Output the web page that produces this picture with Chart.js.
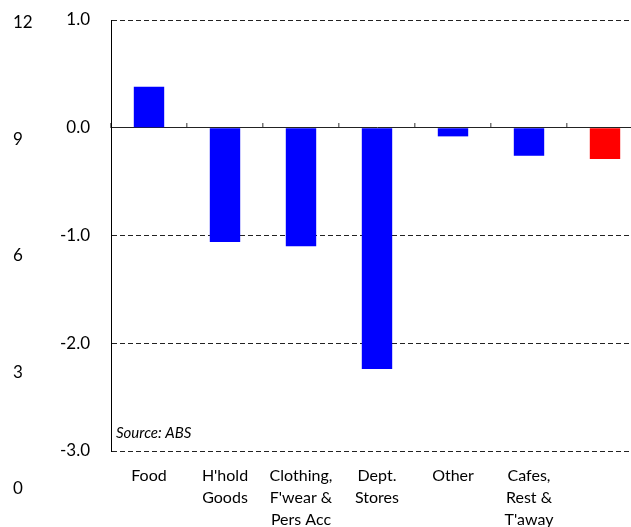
<!DOCTYPE html>
<html>
<head>
<meta charset="utf-8">
<script src="https://cdn.jsdelivr.net/npm/chart.js@4.4.1/dist/chart.umd.min.js"></script>
<style>
  html, body { margin: 0; padding: 0; background: #fff; overflow: hidden; }
  #wrap { width: 643px; height: 527px; }
</style>
</head>
<body>
<div id="wrap"><canvas id="salesChart"></canvas></div>
<script>
// Retail categories (last bar has no label in the original)
const categories = [
  ['Food'],
  ["H'hold", 'Goods'],
  ['Clothing,', "F'wear &", 'Pers Acc'],
  ['Dept.', 'Stores'],
  ['Other'],
  ['Cafes,', 'Rest &', "T'away"],
  ''
];
const values = [0.38, -1.06, -1.10, -2.24, -0.08, -0.26, -0.29];
const barColours = ['#0000ff', '#0000ff', '#0000ff', '#0000ff', '#0000ff', '#0000ff', '#ff0000'];
const leftTicks = [-3, -2, -1, 0, 1];
const outerTicks = [0, 3, 6, 9, 12];

const FONT = 'Lato, "Open Sans", sans-serif';

// small note inside the plot, bottom left
const sourceNote = {
  id: 'sourceNote',
  afterDraw(chart) {
    const { ctx, chartArea } = chart;
    ctx.save();
    ctx.font = 'italic 15px ' + FONT;
    ctx.fillStyle = '#000';
    ctx.textBaseline = 'middle';
    ctx.fillText('Source: ABS', chartArea.left + 5, chartArea.bottom - 18);
    ctx.restore();
  }
};

// vertical scales add their tick padding to the top/bottom margin; drop it
function noVertPadding(scale) {
  scale.paddingTop = 0;
  scale.paddingBottom = 0;
}

const ctx = document.getElementById('salesChart').getContext('2d');

const salesChart = new Chart(ctx, {
  type: 'bar',
  data: {
    labels: categories,
    datasets: [{
      data: values,
      backgroundColor: barColours,
      borderWidth: 0,
      barPercentage: 0.4,
      categoryPercentage: 1.0,
      xAxisID: 'x',
      yAxisID: 'y'
    }]
  },
  options: {
    responsive: true,
    maintainAspectRatio: false,
    animation: false,
    layout: { padding: { top: 20, left: 13, right: 0, bottom: 0 } },
    plugins: {
      legend: { display: false },
      tooltip: { enabled: false }
    },
    scales: {
      // tick marks sitting on the zero line
      x: {
        type: 'category',
        position: { y: 0 },
        offset: true,
        ticks: { display: false },
        grid: {
          offset: true,
          drawOnChartArea: false,
          drawTicks: true,
          tickLength: -5,
          color: '#777',
          lineWidth: 1.5
        },
        border: { display: false }
      },
      // category labels under the plot
      x2: {
        type: 'category',
        position: 'bottom',
        offset: true,
        grid: { display: false },
        border: { display: false },
        ticks: {
          color: '#000',
          padding: 6,
          maxRotation: 0,
          autoSkip: false,
          font: { family: FONT, size: 16, lineHeight: '22px' }
        },
        afterFit(scale) { scale.height = 76; }
      },
      y2: {
        type: 'linear',
        position: 'left',
        weight: 2,
        min: 0.977,
        max: 12.077,
        grid: { display: false },
        border: { display: false },
        ticks: {
          color: '#000',
          padding: 0,
          crossAlign: 'far',
          font: { family: FONT, size: 17 }
        },
        afterBuildTicks(scale) {
          scale.ticks = outerTicks.map(v => ({ value: v }));
        },
        afterFit(scale) {
          scale.width = 40;
          noVertPadding(scale);
        }
      },
      y: {
        type: 'linear',
        position: 'left',
        weight: 1,
        min: -3,
        max: 1,
        grid: {
          color: '#222',
          lineWidth: 1,
          drawTicks: false
        },
        border: {
          display: true,
          color: '#000',
          width: 1,
          dash: (c) => (c.tick && c.tick.value === 0) ? [] : [5, 3]
        },
        ticks: {
          color: '#000',
          padding: 21,
          font: { family: FONT, size: 17 },
          callback: (v) => Number(v).toFixed(1)
        },
        afterBuildTicks(scale) {
          scale.ticks = leftTicks.map(v => ({ value: v }));
        },
        afterFit(scale) {
          scale.width = 58;
          noVertPadding(scale);
        }
      }
    }
  },
  plugins: [sourceNote]
});
</script>
</body>
</html>
